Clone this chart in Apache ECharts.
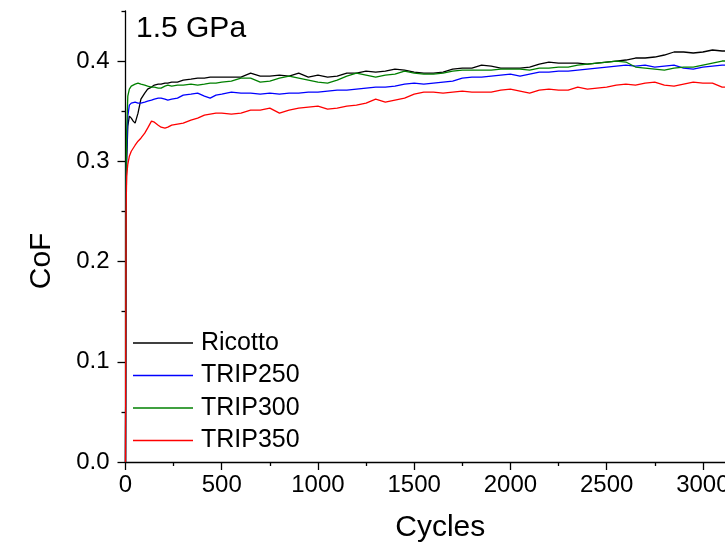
<!DOCTYPE html>
<html>
<head>
<meta charset="utf-8">
<script src="https://cdn.jsdelivr.net/npm/echarts@6/dist/echarts.min.js"></script>
<style>html,body{margin:0;padding:0;background:#fff;}#c{width:725px;height:543px;}</style>
</head>
<body>
<div id="c"></div>
<script>
const titleText = '1.5 GPa';
const seriesNames = ['Ricotto', 'TRIP250', 'TRIP300', 'TRIP350'];
const xTicks = [0, 500, 1000, 1500, 2000, 2500, 3000];
const xMinorTicks = [250, 750, 1250, 1750, 2250, 2750];
const yTicks = [0, 0.1, 0.2, 0.3, 0.4];
const yMinorTicks = [0.05, 0.15, 0.25, 0.35, 0.45];

const cycles = [0, 3, 6, 12, 20, 30, 40, 50, 65, 80, 100, 115, 135, 150, 170, 185, 205, 220, 240, 270, 300, 340, 375, 410, 440, 470,
  500, 550, 600, 650, 700, 750, 800, 850, 900, 950,
  1000, 1050, 1100, 1150, 1200, 1250, 1300, 1350, 1400, 1450,
  1500, 1550, 1600, 1650, 1700, 1750, 1800, 1850, 1900, 1950,
  2000, 2050, 2100, 2150, 2200, 2250, 2300, 2350, 2400, 2450,
  2500, 2550, 2600, 2650, 2700, 2750, 2800, 2850, 2900, 2950,
  3000, 3050, 3100, 3150];

const ricotto = [0, 0.25, 0.30, 0.335, 0.345, 0.343, 0.340, 0.338, 0.348, 0.362, 0.368, 0.372, 0.374, 0.376, 0.377, 0.377, 0.378, 0.378, 0.379, 0.379, 0.381, 0.382, 0.383, 0.383, 0.384, 0.384,
  0.384, 0.384, 0.384, 0.388, 0.385, 0.385, 0.386, 0.385, 0.388, 0.384,
  0.386, 0.384, 0.385, 0.388, 0.388, 0.390, 0.389, 0.390, 0.392, 0.391,
  0.389, 0.388, 0.388, 0.389, 0.392, 0.393, 0.393, 0.396, 0.395, 0.393,
  0.393, 0.393, 0.394, 0.397, 0.399, 0.398, 0.398, 0.398, 0.397, 0.398,
  0.399, 0.400, 0.401, 0.403, 0.403, 0.404, 0.406, 0.409, 0.409, 0.408,
  0.409, 0.411, 0.410, 0.410];

const trip250 = [0, 0.27, 0.31, 0.345, 0.356, 0.358, 0.359, 0.359, 0.358, 0.358, 0.359, 0.360, 0.361, 0.362, 0.363, 0.363, 0.362, 0.361, 0.362, 0.363, 0.366, 0.367, 0.368, 0.365, 0.363, 0.366,
  0.367, 0.369, 0.368, 0.368, 0.367, 0.368, 0.367, 0.368, 0.368, 0.369,
  0.369, 0.370, 0.371, 0.371, 0.372, 0.373, 0.374, 0.374, 0.375, 0.377,
  0.378, 0.377, 0.378, 0.379, 0.380, 0.383, 0.384, 0.384, 0.385, 0.386,
  0.387, 0.385, 0.387, 0.389, 0.389, 0.390, 0.390, 0.391, 0.392, 0.393,
  0.394, 0.395, 0.396, 0.395, 0.396, 0.394, 0.395, 0.396, 0.393, 0.392,
  0.394, 0.395, 0.396, 0.396];

const trip300 = [0, 0.28, 0.33, 0.365, 0.372, 0.375, 0.376, 0.377, 0.378, 0.377, 0.376, 0.375, 0.374, 0.374, 0.373, 0.373, 0.375, 0.376, 0.375, 0.376, 0.376, 0.377, 0.376, 0.377, 0.378, 0.378,
  0.379, 0.380, 0.383, 0.383, 0.379, 0.380, 0.383, 0.385, 0.383, 0.381,
  0.379, 0.378, 0.381, 0.385, 0.388, 0.386, 0.384, 0.386, 0.387, 0.390,
  0.388, 0.387, 0.387, 0.388, 0.390, 0.391, 0.391, 0.391, 0.391, 0.392,
  0.392, 0.392, 0.391, 0.393, 0.393, 0.394, 0.394, 0.396, 0.397, 0.398,
  0.399, 0.400, 0.399, 0.394, 0.393, 0.392, 0.391, 0.393, 0.394, 0.394,
  0.396, 0.398, 0.400, 0.400];

const trip350 = [0, 0.25, 0.285, 0.297, 0.305, 0.310, 0.313, 0.316, 0.320, 0.323, 0.328, 0.333, 0.340, 0.339, 0.336, 0.334, 0.333, 0.334, 0.336, 0.337, 0.338, 0.341, 0.343, 0.346, 0.347, 0.348,
  0.348, 0.347, 0.348, 0.351, 0.351, 0.353, 0.348, 0.351, 0.353, 0.354,
  0.355, 0.352, 0.353, 0.355, 0.356, 0.358, 0.362, 0.359, 0.361, 0.363,
  0.367, 0.369, 0.369, 0.368, 0.369, 0.370, 0.369, 0.369, 0.369, 0.371,
  0.372, 0.370, 0.368, 0.371, 0.372, 0.371, 0.371, 0.374, 0.372, 0.373,
  0.374, 0.376, 0.377, 0.376, 0.378, 0.379, 0.376, 0.375, 0.377, 0.379,
  0.378, 0.378, 0.374, 0.374];

const colors = ['#000000', '#0000ff', '#008000', '#ff0000'];
const values = [ricotto, trip250, trip300, trip350];
const FONT = 'Arial, "Liberation Sans", sans-serif';

const chart = echarts.init(document.getElementById('c'), null, {renderer: 'canvas'});
const axisLineStyle = {color: '#000', width: 1.3};

chart.setOption({
  animation: false,
  backgroundColor: '#fff',
  title: {
    text: titleText, left: 136, top: 14, padding: 0,
    textStyle: {fontSize: 30, fontWeight: 'normal', color: '#000', fontFamily: FONT}
  },
  legend: {
    orient: 'vertical', left: 133, top: 330, padding: 0,
    itemWidth: 60, itemHeight: 1.4, itemGap: 6.5, icon: 'rect',
    data: seriesNames,
    textStyle: {fontSize: 25, lineHeight: 26, color: '#000', fontFamily: FONT, padding: [0, 0, 0, 3]}
  },
  grid: {left: 125.5, top: 10.9, bottom: 81, right: 0, containLabel: false, outerBoundsMode: 'none'},
  xAxis: [{
    type: 'value', min: 0, max: 3115, position: 'bottom',
    name: 'Cycles', nameLocation: 'middle', nameGap: 51,
    nameTextStyle: {fontSize: 30, color: '#000', fontFamily: FONT, padding: [0, 0, 0, 30]},
    axisLine: {show: true, onZero: false, lineStyle: axisLineStyle},
    axisTick: {show: true, inside: false, length: 8, lineStyle: axisLineStyle, customValues: xTicks},
    axisLabel: {fontSize: 24, color: '#000', fontFamily: FONT, margin: 11, customValues: xTicks,
      formatter: v => String(v)},
    splitLine: {show: false}
  }, {
    type: 'value', min: 0, max: 3115, position: 'bottom', offset: 0,
    axisLine: {show: false},
    axisTick: {show: true, inside: false, length: 4, lineStyle: axisLineStyle, customValues: xMinorTicks},
    axisLabel: {show: false},
    splitLine: {show: false}
  }],
  yAxis: [{
    type: 'value', min: 0, max: 0.45, position: 'left',
    name: 'CoF', nameLocation: 'middle', nameGap: 69, nameRotate: 90,
    nameTextStyle: {fontSize: 30, color: '#000', fontFamily: FONT, padding: [0, 49, 0, 0]},
    axisLine: {show: true, onZero: false, lineStyle: axisLineStyle},
    axisTick: {show: true, inside: false, length: 8, lineStyle: axisLineStyle, customValues: yTicks},
    axisLabel: {fontSize: 24, color: '#000', fontFamily: FONT, margin: 16, customValues: yTicks,
      formatter: v => v.toFixed(1)},
    splitLine: {show: false}
  }, {
    type: 'value', min: 0, max: 0.45, position: 'left', offset: 0,
    axisLine: {show: false},
    axisTick: {show: true, inside: false, length: 4, lineStyle: axisLineStyle, customValues: yMinorTicks},
    axisLabel: {show: false},
    splitLine: {show: false}
  }],
  series: seriesNames.map((name, i) => ({
    name: name, type: 'line', xAxisIndex: 0, yAxisIndex: 0,
    showSymbol: false, symbol: 'none',
    color: colors[i],
    lineStyle: {color: colors[i], width: 1.3},
    data: cycles.map((c, k) => [c, values[i][k]])
  }))
});
</script>
</body>
</html>
